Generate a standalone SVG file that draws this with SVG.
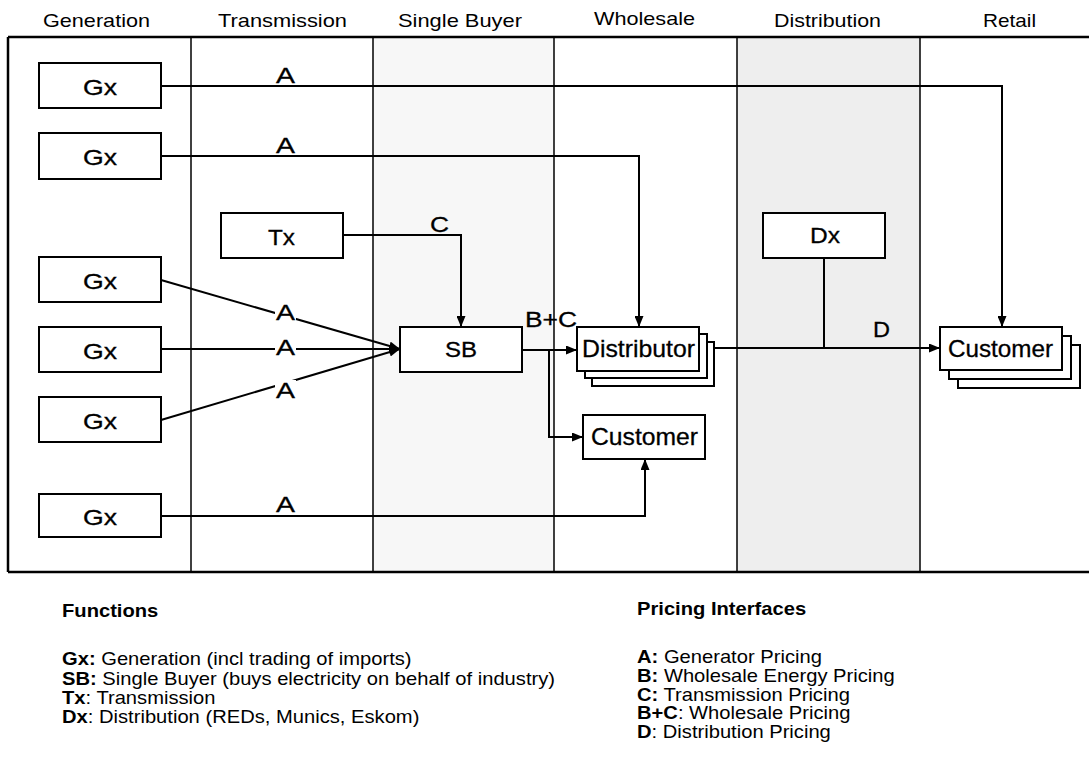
<svg xmlns="http://www.w3.org/2000/svg" width="1089" height="766" viewBox="0 0 1089 766">
<defs>
<marker id="arr" markerWidth="11" markerHeight="9" refX="11" refY="4.5" orient="auto" markerUnits="userSpaceOnUse">
<path d="M0,0 L11,4.5 L0,9 z" fill="#000"/>
</marker>
</defs>
<style>
text{font-family:"Liberation Sans",Arial,sans-serif;fill:#000}
.hdr{font-size:19px}
.box{fill:#fff;stroke:#000;stroke-width:2}
.lbl{font-size:22px;stroke:#000;stroke-width:0.3}
.big{font-size:24px;stroke:#000;stroke-width:0.3}
.con{fill:none;stroke:#000;stroke-width:2}
.lane{stroke:#000;stroke-width:1.5}
.frame{stroke:#000;stroke-width:2.5}
.leg{font-size:18px}
.b{font-weight:bold}
.bg{fill:#fff}
</style>
<rect x="0" y="0" width="1089" height="766" fill="#fff"/>
<g id="lanes">
<rect x="373" y="37" width="181" height="535" fill="#f7f7f7"/>
<rect x="737" y="37" width="183" height="535" fill="#eeeeee"/>
<line class="frame" x1="8" y1="37" x2="1089" y2="37"/>
<line class="frame" x1="8" y1="572" x2="1089" y2="572"/>
<line class="frame" x1="8" y1="37" x2="8" y2="572"/>
<line class="lane" x1="191" y1="37" x2="191" y2="572"/>
<line class="lane" x1="373" y1="37" x2="373" y2="572"/>
<line class="lane" x1="554" y1="37" x2="554" y2="572"/>
<line class="lane" x1="737" y1="37" x2="737" y2="572"/>
<line class="lane" x1="920" y1="37" x2="920" y2="572"/>
<text class="hdr" x="43" y="27" textLength="107" lengthAdjust="spacingAndGlyphs">Generation</text>
<text class="hdr" x="218" y="27" textLength="129" lengthAdjust="spacingAndGlyphs">Transmission</text>
<text class="hdr" x="398" y="27" textLength="124" lengthAdjust="spacingAndGlyphs">Single Buyer</text>
<text class="hdr" x="594" y="25" textLength="101" lengthAdjust="spacingAndGlyphs">Wholesale</text>
<text class="hdr" x="774" y="27" textLength="107" lengthAdjust="spacingAndGlyphs">Distribution</text>
<text class="hdr" x="983" y="27" textLength="53" lengthAdjust="spacingAndGlyphs">Retail</text>
</g>
<g id="connectors">
<polyline class="con" points="161,86 1002,86 1002,327" marker-end="url(#arr)"/>
<polyline class="con" points="161,156 639,156 639,327" marker-end="url(#arr)"/>
<polyline class="con" points="343,235 461,235 461,327" marker-end="url(#arr)"/>
<line class="con" x1="161" y1="280" x2="400" y2="349" marker-end="url(#arr)"/>
<line class="con" x1="161" y1="349" x2="400" y2="349" marker-end="url(#arr)"/>
<line class="con" x1="161" y1="420" x2="400" y2="349" marker-end="url(#arr)"/>
<line class="con" x1="522" y1="350" x2="577" y2="350" marker-end="url(#arr)"/>
<polyline class="con" points="549,350 549,437 583,437" marker-end="url(#arr)"/>
<polyline class="con" points="161,516 645,516 645,459" marker-end="url(#arr)"/>
<line class="con" x1="714" y1="348" x2="940" y2="348" marker-end="url(#arr)"/>
<line class="con" x1="824" y1="258" x2="824" y2="348"/>
<text class="lbl" x="276" y="83" textLength="19" lengthAdjust="spacingAndGlyphs">A</text>
<text class="lbl" x="276" y="153" textLength="19" lengthAdjust="spacingAndGlyphs">A</text>
<rect class="bg" x="275" y="302" width="21" height="18"/>
<text class="lbl" x="276" y="320" textLength="19" lengthAdjust="spacingAndGlyphs">A</text>
<rect class="bg" x="275" y="338" width="21" height="16"/>
<text class="lbl" x="276" y="355" textLength="19" lengthAdjust="spacingAndGlyphs">A</text>
<rect class="bg" x="275" y="380" width="21" height="18"/>
<text class="lbl" x="276" y="398" textLength="19" lengthAdjust="spacingAndGlyphs">A</text>
<text class="lbl" x="276" y="512" textLength="19" lengthAdjust="spacingAndGlyphs">A</text>
<text class="lbl" x="430" y="232" textLength="19" lengthAdjust="spacingAndGlyphs">C</text>
<text class="lbl" x="525" y="327" textLength="52" lengthAdjust="spacingAndGlyphs">B+C</text>
<text class="lbl" x="873" y="337" textLength="17" lengthAdjust="spacingAndGlyphs">D</text>
</g>
<g id="gx1"><rect class="box" x="39" y="63" width="122" height="45"/><text class="lbl" x="83" y="95" textLength="34" lengthAdjust="spacingAndGlyphs">Gx</text></g>
<g id="gx2"><rect class="box" x="39" y="133" width="122" height="46"/><text class="lbl" x="83" y="165" textLength="34" lengthAdjust="spacingAndGlyphs">Gx</text></g>
<g id="gx3"><rect class="box" x="39" y="257" width="122" height="45"/><text class="lbl" x="83" y="289" textLength="34" lengthAdjust="spacingAndGlyphs">Gx</text></g>
<g id="gx4"><rect class="box" x="39" y="327" width="122" height="45"/><text class="lbl" x="83" y="359" textLength="34" lengthAdjust="spacingAndGlyphs">Gx</text></g>
<g id="gx5"><rect class="box" x="39" y="397" width="122" height="45"/><text class="lbl" x="83" y="429" textLength="34" lengthAdjust="spacingAndGlyphs">Gx</text></g>
<g id="gx6"><rect class="box" x="39" y="494" width="122" height="43"/><text class="lbl" x="83" y="525" textLength="34" lengthAdjust="spacingAndGlyphs">Gx</text></g>
<g id="tx"><rect class="box" x="221" y="213" width="122" height="45"/><text class="lbl" x="268" y="245" textLength="27" lengthAdjust="spacingAndGlyphs">Tx</text></g>
<g id="sb"><rect class="box" x="400" y="327" width="122" height="45"/><text class="lbl" x="445" y="357" textLength="32" lengthAdjust="spacingAndGlyphs">SB</text></g>
<g id="dx"><rect class="box" x="763" y="213" width="122" height="45"/><text class="lbl" x="810" y="243" textLength="30" lengthAdjust="spacingAndGlyphs">Dx</text></g>
<g id="distributor">
<rect class="box" x="592" y="342" width="122" height="44"/>
<rect class="box" x="585" y="334" width="122" height="44"/>
<rect class="box" x="577" y="327" width="122" height="44"/>
<text class="big" x="582" y="357" textLength="113" lengthAdjust="spacingAndGlyphs">Distributor</text>
</g>
<g id="customer-wholesale"><rect class="box" x="583" y="415" width="122" height="44"/><text class="big" x="591" y="445" textLength="107" lengthAdjust="spacingAndGlyphs">Customer</text></g>
<g id="customer-retail">
<rect class="box" x="958" y="345" width="122" height="43"/>
<rect class="box" x="949" y="336" width="122" height="43"/>
<rect class="box" x="940" y="327" width="122" height="43"/>
<text class="big" x="948" y="357" textLength="105" lengthAdjust="spacingAndGlyphs">Customer</text>
</g>
<g id="legend-functions" transform="translate(62,0) scale(1.12,1)">
<text class="leg b" x="0" y="617">Functions</text>
<text class="leg" x="0" y="665"><tspan class="b">Gx:</tspan> Generation (incl trading of imports)</text>
<text class="leg" x="0" y="685"><tspan class="b">SB:</tspan> Single Buyer (buys electricity on behalf of industry)</text>
<text class="leg" x="0" y="704"><tspan class="b">Tx</tspan>: Transmission</text>
<text class="leg" x="0" y="723"><tspan class="b">Dx</tspan>: Distribution (REDs, Munics, Eskom)</text>
</g>
<g id="legend-pricing" transform="translate(637,0) scale(1.12,1)">
<text class="leg b" x="0" y="615">Pricing Interfaces</text>
<text class="leg" x="0" y="663"><tspan class="b">A:</tspan> Generator Pricing</text>
<text class="leg" x="0" y="682"><tspan class="b">B:</tspan> Wholesale Energy Pricing</text>
<text class="leg" x="0" y="701"><tspan class="b">C:</tspan> Transmission Pricing</text>
<text class="leg" x="0" y="719"><tspan class="b">B+C</tspan>: Wholesale Pricing</text>
<text class="leg" x="0" y="738"><tspan class="b">D</tspan>: Distribution Pricing</text>
</g>
</svg>
